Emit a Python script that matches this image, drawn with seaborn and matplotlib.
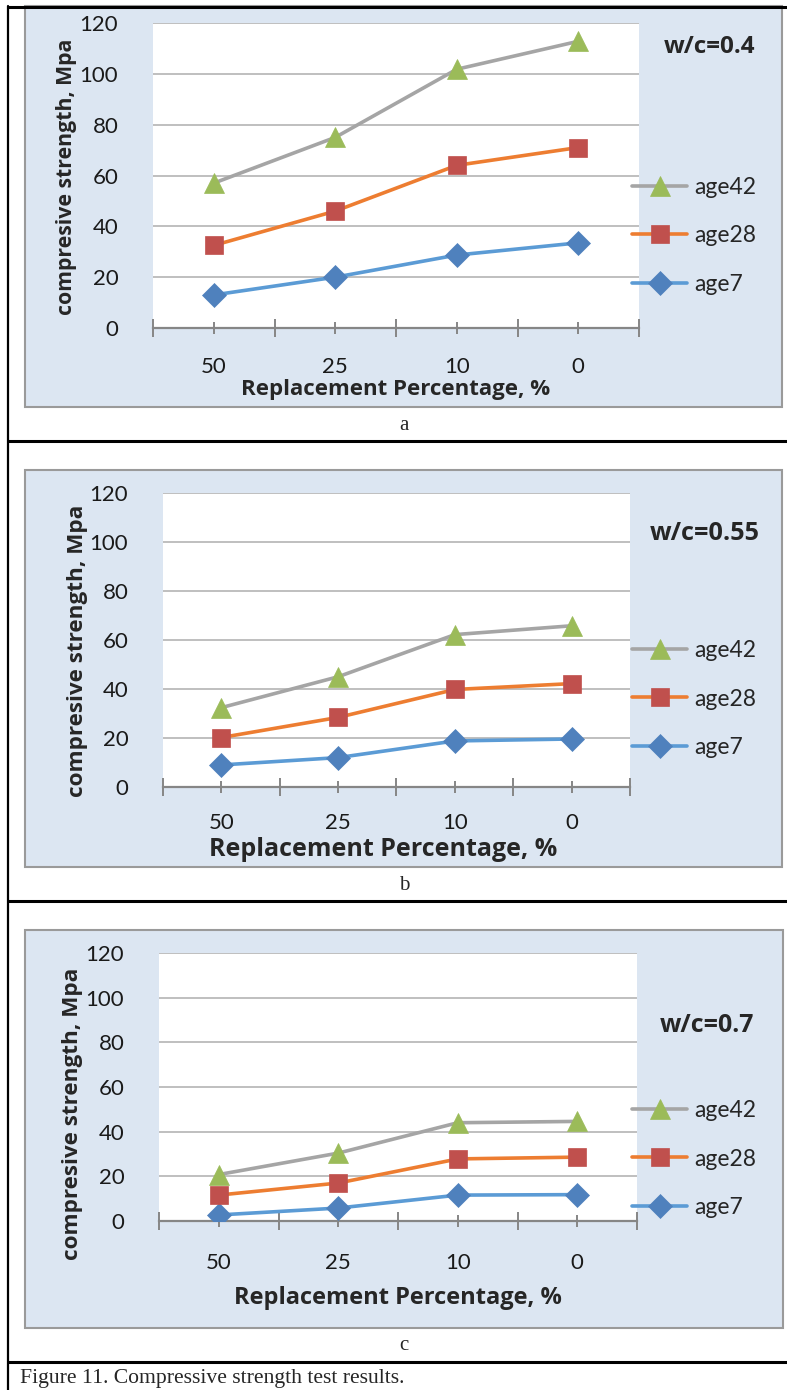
import pandas as pd
import seaborn as sns
import matplotlib.pyplot as plt
from matplotlib.patches import Rectangle
from matplotlib.lines import Line2D

# data
pct = ['50', '25', '10', '0']
ages = ['age7', 'age28', 'age42']

age7_a = [13, 20, 28.7, 33.5]
age28_a = [32.5, 46, 64, 71]
age42_a = [57, 75, 101.8, 112.8]

age7_b = [9, 12, 18.8, 19.6]
age28_b = [20.2, 28.4, 39.8, 42.2]
age42_b = [32.4, 45, 62.2, 65.8]

age7_c = [2.7, 5.8, 11.6, 11.8]
age28_c = [11.6, 17, 27.8, 28.6]
age42_c = [20.8, 30.4, 44, 44.6]

wc_labels = ['w/c=0.4', 'w/c=0.55', 'w/c=0.7']
letters = ['a', 'b', 'c']

line_colors = {'age7': '#5B9BD5', 'age28': '#ED7D31', 'age42': '#A5A5A5'}
marker_colors = {'age7': '#4F81BD', 'age28': '#C0504D', 'age42': '#9BBB59'}
markers = {'age7': 'D', 'age28': 's', 'age42': '^'}
msizes = {'age7': 12, 'age28': 13, 'age42': 14}

W, H = 787, 1390
BOLD = ['Open Sans', 'DejaVu Sans']

sns.set_style('white')
plt.rcParams['font.family'] = ['Lato', 'DejaVu Sans']

fig = plt.figure(figsize=(W / 100, H / 100), dpi=100)


def fx(x):
    return x / W


def fy(y):
    return 1 - y / H


# panel layouts in pixels
panels = [
    dict(plot=(153, 23, 639, 328), box=(25, 6, 782, 407), letter=425,
         wc=(710, 47), wcs=17.5, leg=236, xl=(396, 390), yl=(67, 177), xls=16,
         yls=15.3, xpad=17),
    dict(plot=(163, 493, 630, 787), box=(25, 470, 782, 867), letter=885,
         wc=(705, 534), wcs=18.2, leg=699, xl=(383, 849), yl=(77, 651), xls=18,
         yls=16.2, xpad=15),
    dict(plot=(159, 953, 637, 1221), box=(25, 930, 783, 1328), letter=1345,
         wc=(707, 1025), wcs=18, leg=1159, xl=(398, 1298), yl=(73, 1114), xls=17,
         yls=16.2, xpad=19),
]
series = [
    (age7_a, age28_a, age42_a),
    (age7_b, age28_b, age42_b),
    (age7_c, age28_c, age42_c),
]

for i, p in enumerate(panels):
    bx0, by0, bx1, by1 = p['box']
    fig.patches.append(Rectangle((fx(bx0), fy(by1)), fx(bx1 - bx0), (by1 - by0) / H,
                                 transform=fig.transFigure, facecolor='#DCE6F2',
                                 edgecolor='#9A9A9A', linewidth=1.5, zorder=-5))

    x0, y0, x1, y1 = p['plot']
    ax = fig.add_axes([fx(x0), fy(y1), fx(x1 - x0), (y1 - y0) / H])

    a7, a28, a42 = series[i]
    df = pd.DataFrame({
        'pct': pct * 3,
        'strength': a7 + a28 + a42,
        'age': ['age7'] * 4 + ['age28'] * 4 + ['age42'] * 4,
    })
    sns.lineplot(data=df, x='pct', y='strength', hue='age', style='age',
                 hue_order=ages, style_order=ages, palette=line_colors,
                 markers=markers, dashes=False, linewidth=2.6, sort=False,
                 legend=False, ax=ax)
    for line, age in zip(ax.lines, ages):
        line.set_markerfacecolor(marker_colors[age])
        line.set_markeredgecolor(marker_colors[age])
        line.set_markersize(msizes[age])
        line.set_markeredgewidth(0.5)
        line.set_solid_capstyle('round')

    ax.set_facecolor('white')
    ax.set_xlim(-0.5, 3.5)
    ax.set_ylim(0, 120)
    ax.set_yticks(range(0, 121, 20))
    ax.set_xticks([0, 1, 2, 3])
    ax.set_xticklabels(pct)
    ax.set_xticks([-0.5, 0.5, 1.5, 2.5, 3.5], minor=True)
    ax.yaxis.grid(True, color='#BABABA', linewidth=1.3)
    ax.set_axisbelow(True)
    for s in ['left', 'top', 'right']:
        ax.spines[s].set_visible(False)
    ax.spines['bottom'].set_color('#868686')
    ax.spines['bottom'].set_linewidth(1.6)
    ax.spines['bottom'].set_zorder(1)
    ax.tick_params(axis='y', length=0, pad=25, labelsize=16, labelcolor='#1a1a1a')
    ax.tick_params(axis='x', which='major', bottom=True, direction='inout', length=8,
                   width=1.4, color='#868686', pad=p['xpad'], labelsize=16,
                   labelcolor='#1a1a1a')
    ax.tick_params(axis='x', which='minor', bottom=True, direction='inout', length=13,
                   width=1.4, color='#868686')

    ax.set_xlabel('Replacement Percentage, %', fontsize=p['xls'], fontweight='bold',
                  family=BOLD)
    ax.set_ylabel('compresive strength, Mpa', fontsize=p['yls'], fontweight='bold',
                  family=BOLD)
    pw, ph = x1 - x0, y1 - y0
    ax.xaxis.set_label_coords((p['xl'][0] - x0) / pw, (y1 - p['xl'][1]) / ph)
    ax.xaxis.label.set_va('center')
    ax.yaxis.set_label_coords((p['yl'][0] - x0) / pw, (y1 - p['yl'][1]) / ph)
    ax.yaxis.label.set_va('center')

    # legend in reverse order like the original
    handles = [ax.lines[2], ax.lines[1], ax.lines[0]]
    ax.legend(handles, ['age42', 'age28', 'age7'], loc='center left',
              bbox_to_anchor=(fx(632), fy(p['leg'])), bbox_transform=fig.transFigure,
              frameon=False, fontsize=16.5, handlelength=2.4, handletextpad=0.3,
              labelspacing=1.2, borderaxespad=0, borderpad=0)

    fig.text(fx(p['wc'][0]), fy(p['wc'][1]), wc_labels[i], ha='center', va='center',
             fontsize=p['wcs'], fontweight='bold', family=BOLD)
    fig.text(fx(404), fy(p['letter']), letters[i], ha='center', va='center',
             fontsize=15, family='Liberation Serif')

# table borders
for yy in [7, 441, 901, 1362]:
    fig.add_artist(Line2D([fx(8), 1], [fy(yy), fy(yy)], color='black', linewidth=2.2,
                          transform=fig.transFigure))
fig.add_artist(Line2D([fx(8), fx(8)], [fy(6), fy(1390)], color='black', linewidth=1.6,
                      transform=fig.transFigure))

fig.text(fx(20), fy(1379), 'Figure 11. Compressive strength test results.', ha='left',
         va='center', fontsize=15.6, family='Liberation Serif')

fig.savefig('out.png', dpi=100)
